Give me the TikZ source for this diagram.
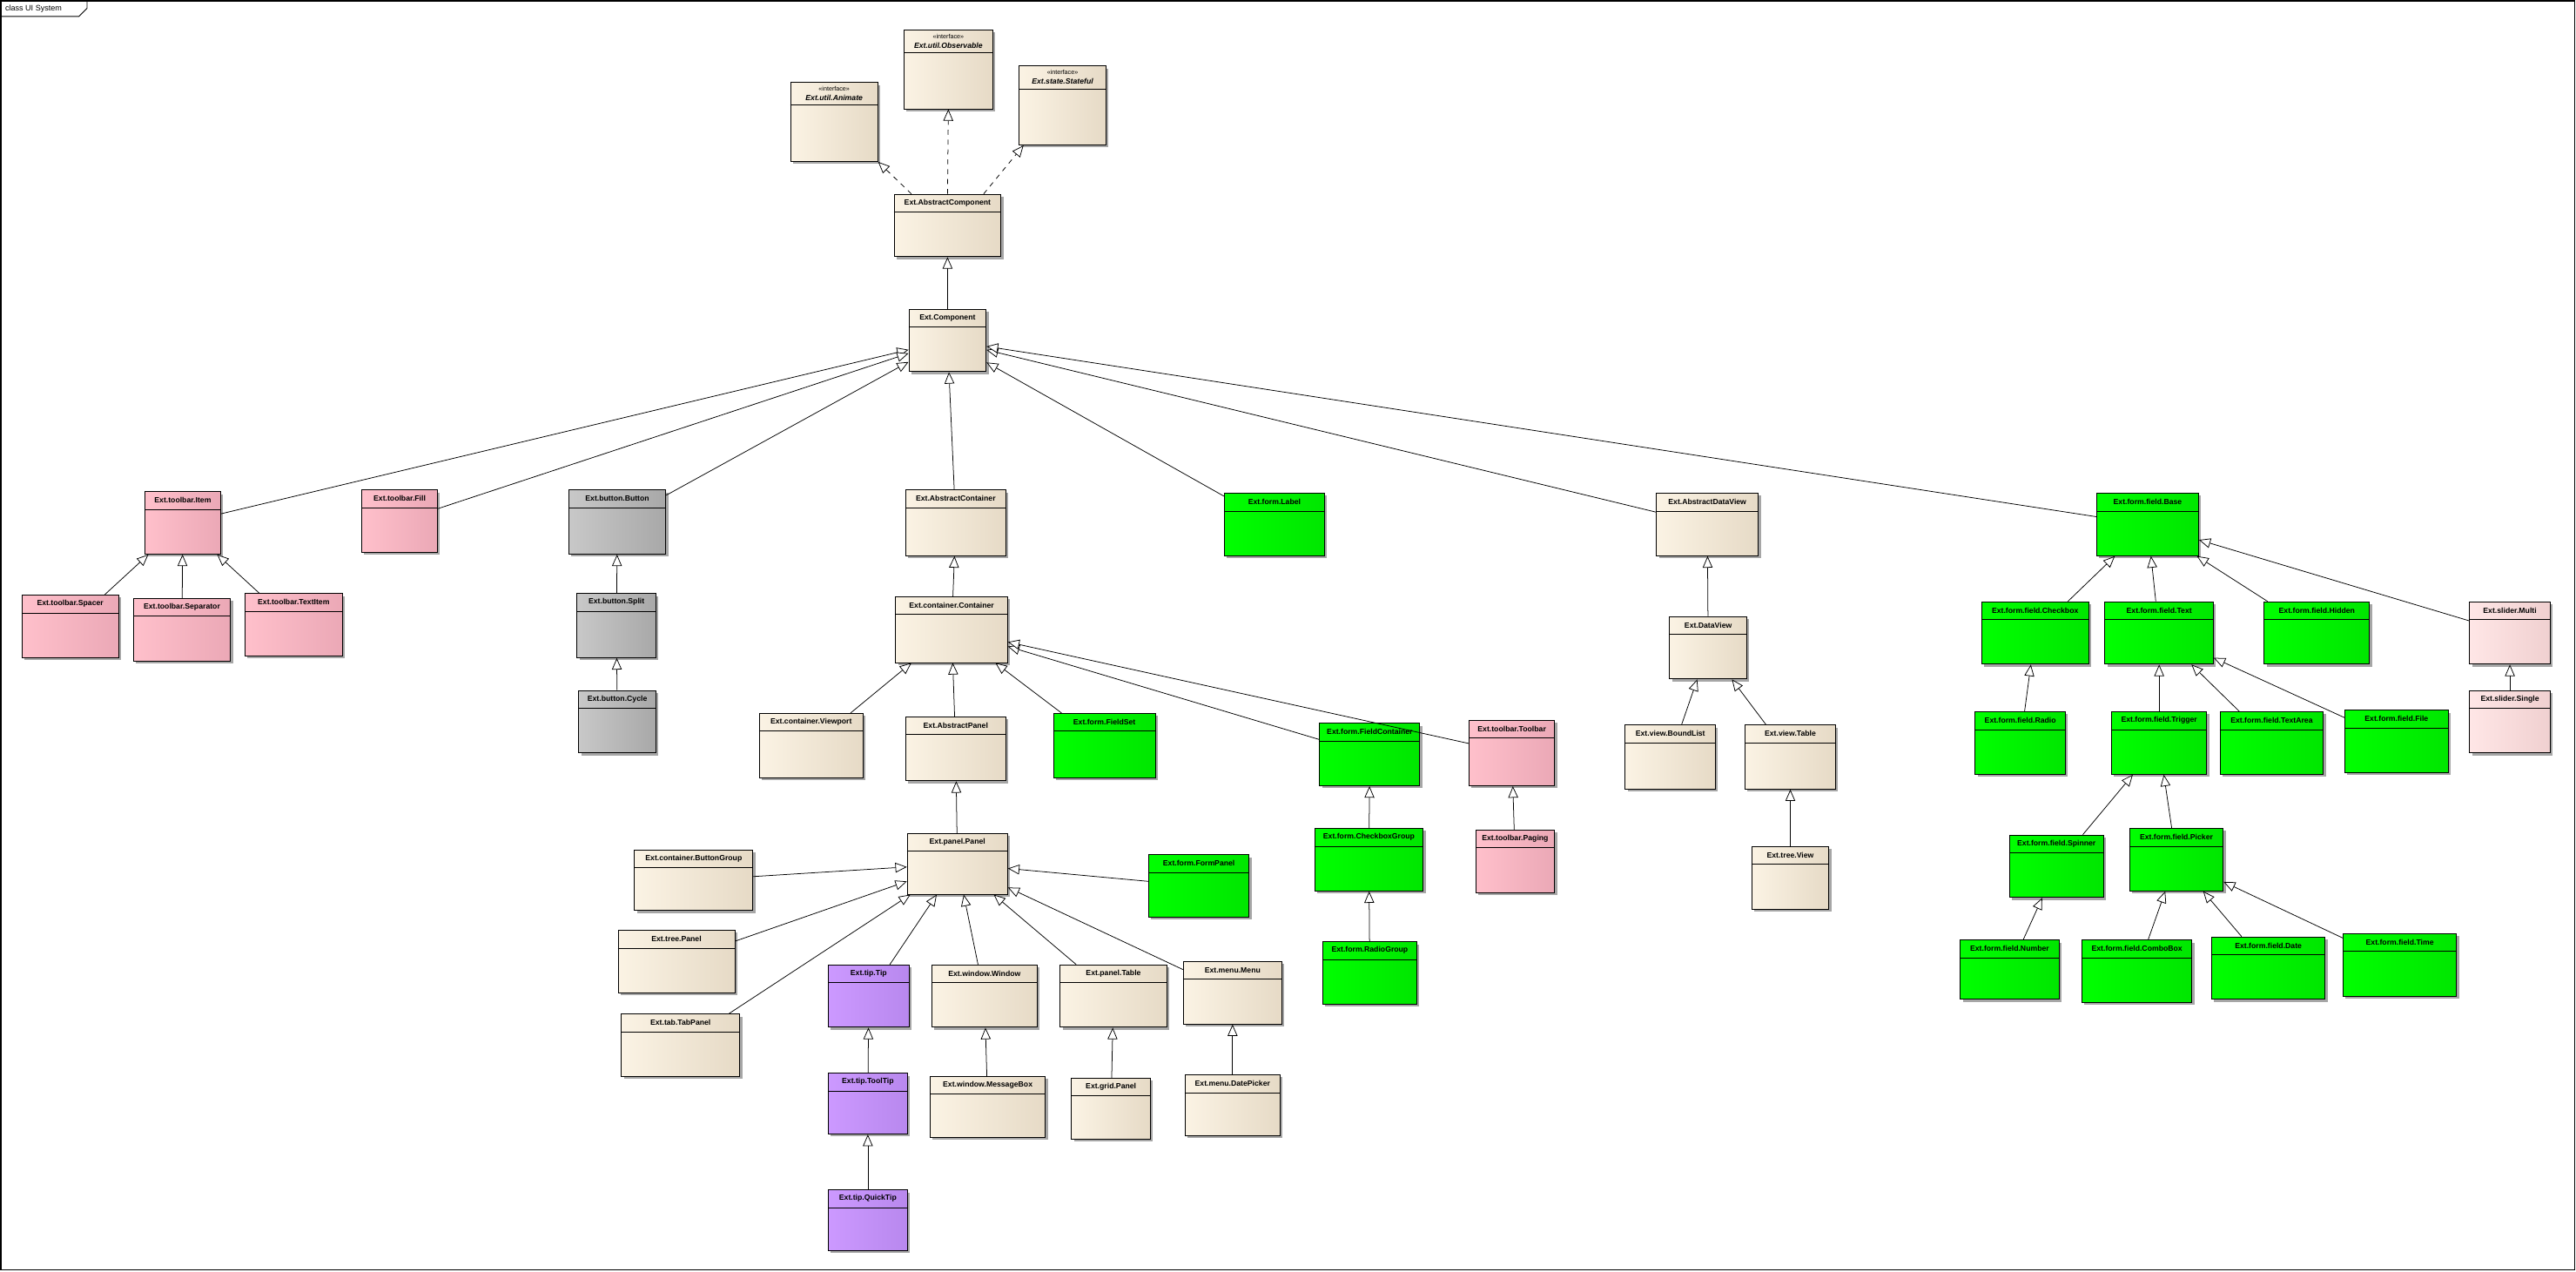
\documentclass[tikz,border=0pt]{standalone}
\usepackage{fontspec}
\setmainfont{Liberation Sans}
\usetikzlibrary{arrows.meta,shadows,calc}
\definecolor{bgA}{HTML}{FBF3E4}\definecolor{bgB}{HTML}{E6DAC6}
\definecolor{pkA}{HTML}{FFC0CB}\definecolor{pkB}{HTML}{EBA8B6}
\definecolor{gyA}{HTML}{C8C8C8}\definecolor{gyB}{HTML}{A8A8A8}
\definecolor{grA}{HTML}{00FF00}\definecolor{grB}{HTML}{00E600}
\definecolor{puA}{HTML}{CC99FF}\definecolor{puB}{HTML}{B888EE}
\definecolor{lpA}{HTML}{FFE6E6}\definecolor{lpB}{HTML}{F0D0D0}
\tikzset{
 box/.style={draw=black,line width=0.5pt,rectangle,inner sep=0,anchor=north west,
   drop shadow={shadow xshift=1.5pt,shadow yshift=-1.5pt,fill=black!35,opacity=1}},
 beige/.style={left color=bgA,right color=bgB},
 pink/.style={left color=pkA,right color=pkB},
 gray/.style={left color=gyA,right color=gyB},
 green/.style={left color=grA,right color=grB},
 purple/.style={left color=puA,right color=puB},
 lpink/.style={left color=lpA,right color=lpB},
 lbl/.style={font=\fontsize{4.6}{5.5}\selectfont\bfseries,inner sep=0},
 inh/.style={-{Triangle[open,length=7pt,width=6pt,fill=white]},line width=0.4pt},
 real/.style={inh,dashed}
}
\newcommand\cls[7]{%
 \node[box,#6,minimum width={(#4-#2)*1pt},minimum height={(#5-#3)*1pt}] (#1) at (#2,#3) {};
 \draw[line width=0.4pt] ($(#1.north west)+(0,11)$) -- ($(#1.north east)+(0,11)$);
 \node[lbl] at ($(#1.north)+(0,5.5)$) {#7};}
\newcommand\ifc[6]{%
 \node[box,beige,minimum width={(#4-#2)*1pt},minimum height={(#5-#3)*1pt}] (#1) at (#2,#3) {};
 \draw[line width=0.4pt] ($(#1.north west)+(0,14)$) -- ($(#1.north east)+(0,14)$);
 \node[lbl,font=\fontsize{3.8}{4.5}\selectfont] at ($(#1.north)+(0,4)$) {«interface»};
 \node[lbl,font=\fontsize{4.6}{5.5}\selectfont\bfseries\itshape] at ($(#1.north)+(0,9.5)$) {#6};}
\begin{document}
\begin{tikzpicture}[x=1pt,y=-1pt]
\useasboundingbox (0,0) rectangle (1568,774);
\fill[white] (0,0) rectangle (1568,774);
\draw[line width=0.6pt] (0.5,0.5) rectangle (1567,773);
\draw[line width=0.5pt] (0.5,10) -- (48,10) -- (53,5) -- (53,0.5);
\node[lbl,font=\fontsize{4.8}{5.5}\selectfont,anchor=west] (title) at (3,5.3) {class UI System};
\ifc{anim}{481}{50}{534}{98}{Ext.util.Animate}
\ifc{obs}{550}{18}{604}{66}{Ext.util.Observable}
\ifc{stat}{620}{40}{673}{88}{Ext.state.Stateful}
\cls{acomp}{544}{118}{609}{156}{beige}{Ext.AbstractComponent}
\cls{comp}{553}{188}{600}{226}{beige}{Ext.Component}
\cls{item}{88}{299}{134}{337}{pink}{Ext.toolbar.Item}
\cls{fill}{220}{298}{266}{336}{pink}{Ext.toolbar.Fill}
\cls{button}{346}{298}{405}{337}{gray}{Ext.button.Button}
\cls{acont}{551}{298}{612}{338}{beige}{Ext.AbstractContainer}
\cls{label}{745}{300}{806}{338}{green}{Ext.form.Label}
\cls{adv}{1008}{300}{1070}{338}{beige}{Ext.AbstractDataView}
\cls{base}{1276}{300}{1338}{338}{green}{Ext.form.field.Base}
\cls{spacer}{13}{362}{72}{400}{pink}{Ext.toolbar.Spacer}
\cls{sep}{81}{364}{140}{402}{pink}{Ext.toolbar.Separator}
\cls{titem}{149}{361}{208}{399}{pink}{Ext.toolbar.TextItem}
\cls{split}{351}{361}{399}{400}{gray}{Ext.button.Split}
\cls{cont}{545}{363}{613}{403}{beige}{Ext.container.Container}
\cls{dview}{1016}{375}{1063}{413}{beige}{Ext.DataView}
\cls{check}{1206}{366}{1271}{404}{green}{Ext.form.field.Checkbox}
\cls{text}{1281}{366}{1347}{404}{green}{Ext.form.field.Text}
\cls{hidden}{1378}{366}{1442}{404}{green}{Ext.form.field.Hidden}
\cls{multi}{1503}{366}{1552}{404}{lpink}{Ext.slider.Multi}
\cls{cycle}{352}{420}{399}{458}{gray}{Ext.button.Cycle}
\cls{viewport}{462}{434}{525}{473}{beige}{Ext.container.Viewport}
\cls{apanel}{551}{436}{612}{475}{beige}{Ext.AbstractPanel}
\cls{fset}{641}{434}{703}{473}{green}{Ext.form.FieldSet}
\cls{fcont}{803}{440}{864}{478}{green}{Ext.form.FieldContainer}
\cls{tbar}{894}{438}{946}{478}{pink}{Ext.toolbar.Toolbar}
\cls{blist}{989}{441}{1044}{480}{beige}{Ext.view.BoundList}
\cls{vtable}{1062}{441}{1117}{480}{beige}{Ext.view.Table}
\cls{radio}{1202}{433}{1257}{471}{green}{Ext.form.field.Radio}
\cls{trig}{1285}{433}{1343}{471}{green}{Ext.form.field.Trigger}
\cls{tarea}{1351}{433}{1414}{471}{green}{Ext.form.field.TextArea}
\cls{file}{1427}{432}{1490}{470}{green}{Ext.form.field.File}
\cls{single}{1503}{420}{1552}{458}{lpink}{Ext.slider.Single}
\cls{bgroup}{386}{517}{458}{554}{beige}{Ext.container.ButtonGroup}
\cls{panel}{552}{507}{613}{544}{beige}{Ext.panel.Panel}
\cls{fpanel}{699}{520}{760}{558}{green}{Ext.form.FormPanel}
\cls{cgroup}{800}{504}{866}{542}{green}{Ext.form.CheckboxGroup}
\cls{paging}{898}{505}{946}{543}{pink}{Ext.toolbar.Paging}
\cls{tview}{1066}{515}{1113}{553}{beige}{Ext.tree.View}
\cls{spin}{1223}{508}{1280}{546}{green}{Ext.form.field.Spinner}
\cls{picker}{1296}{504}{1353}{542}{green}{Ext.form.field.Picker}
\cls{tpanel}{376}{566}{447}{604}{beige}{Ext.tree.Panel}
\cls{tabp}{378}{617}{450}{655}{beige}{Ext.tab.TabPanel}
\cls{tip}{504}{587}{553}{625}{purple}{Ext.tip.Tip}
\cls{win}{567}{587}{631}{625}{beige}{Ext.window.Window}
\cls{ptable}{645}{587}{710}{625}{beige}{Ext.panel.Table}
\cls{menu}{720}{585}{780}{623}{beige}{Ext.menu.Menu}
\cls{rgroup}{805}{573}{862}{611}{green}{Ext.form.RadioGroup}
\cls{number}{1193}{572}{1253}{608}{green}{Ext.form.field.Number}
\cls{combo}{1267}{572}{1334}{610}{green}{Ext.form.field.ComboBox}
\cls{date}{1346}{570}{1415}{608}{green}{Ext.form.field.Date}
\cls{time}{1426}{568}{1495}{606}{green}{Ext.form.field.Time}
\cls{ttip}{504}{653}{552}{690}{purple}{Ext.tip.ToolTip}
\cls{mbox}{566}{655}{636}{692}{beige}{Ext.window.MessageBox}
\cls{gpanel}{652}{656}{700}{693}{beige}{Ext.grid.Panel}
\cls{dpick}{721}{654}{779}{691}{beige}{Ext.menu.DatePicker}
\cls{qtip}{504}{724}{552}{761}{purple}{Ext.tip.QuickTip}
% realizations
\draw[real] (acomp.north) -- (obs.south);
\draw[real] ($(acomp.north)+(-22,0)$) -- (anim.south east);
\draw[real] ($(acomp.north)+(22,0)$) -- ($(stat.south west)+(3,0)$);
% generalizations
\draw[inh] (comp) -- (acomp);
\foreach \c in {item,fill,button,acont,label,adv,base} \draw[inh] (\c) -- (comp);
\foreach \c in {spacer,sep,titem} \draw[inh] (\c) -- (item);
\draw[inh] (split) -- (button); \draw[inh] (cycle) -- (split);
\draw[inh] (cont) -- (acont);
\foreach \c in {viewport,apanel,fset,fcont,tbar} \draw[inh] (\c) -- (cont);
\draw[inh] (panel) -- (apanel);
\foreach \c in {bgroup,tpanel,tabp,tip,win,ptable,menu,fpanel} \draw[inh] (\c) -- (panel);
\draw[inh] (ttip) -- (tip); \draw[inh] (qtip) -- (ttip);
\draw[inh] (mbox) -- (win); \draw[inh] (gpanel) -- (ptable); \draw[inh] (dpick) -- (menu);
\draw[inh] (cgroup) -- (fcont); \draw[inh] (rgroup) -- (cgroup);
\draw[inh] (paging) -- (tbar);
\draw[inh] (dview) -- (adv);
\foreach \c in {blist,vtable} \draw[inh] (\c) -- (dview);
\draw[inh] (tview) -- (vtable);
\foreach \c in {check,text,hidden,multi} \draw[inh] (\c) -- (base);
\draw[inh] (radio) -- (check);
\foreach \c in {trig,tarea,file} \draw[inh] (\c) -- (text);
\foreach \c in {spin,picker} \draw[inh] (\c) -- (trig);
\draw[inh] (number) -- (spin);
\foreach \c in {combo,date,time} \draw[inh] (\c) -- (picker);
\draw[inh] (single) -- (multi);
\end{tikzpicture}
\end{document}
